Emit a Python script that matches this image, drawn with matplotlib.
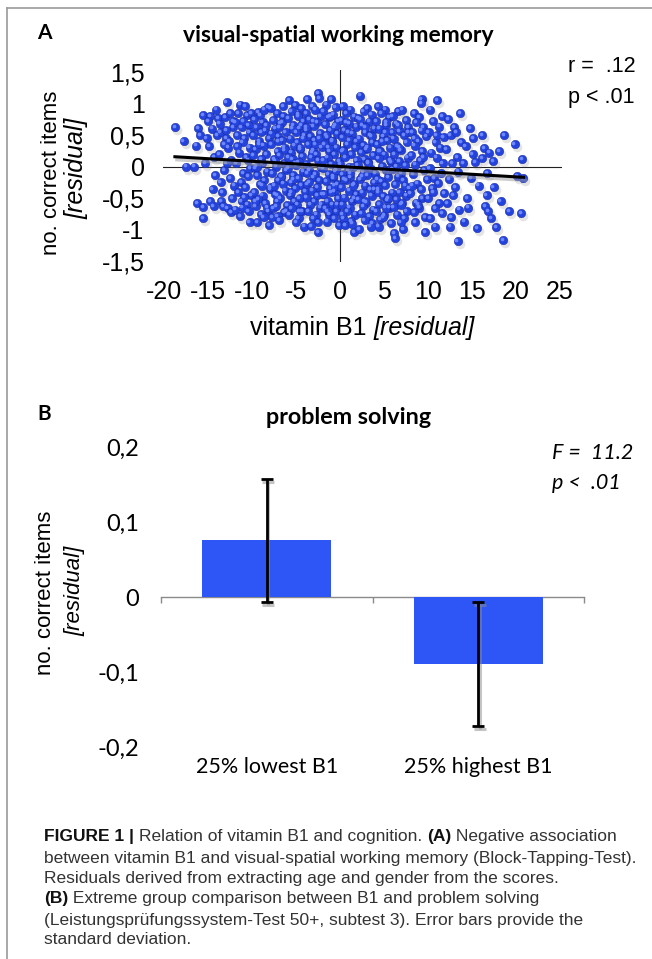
import matplotlib
matplotlib.use("Agg")
import matplotlib.pyplot as plt
from matplotlib.lines import Line2D
from matplotlib.transforms import offset_copy, blended_transform_factory

plt.rcParams['font.family'] = ['Liberation Sans', 'DejaVu Sans']
plt.rcParams['axes.unicode_minus'] = False

# --------------------------
# Panel A data: residuals (vitamin B1 vs. correct items)
# --------------------------
b1_resid = [
    -18.8, -17.8, -17.5, -16.6, -16.4, -16.2, -16.3, -15.6, -15.6, -15.9,
    -15.6, -14.8, -14.9, -14.4, -14.2, -15.0, -14.6, -15.2, -14.3, -14.8,
    -14.1, -15.4, -14.5, -14.0,
    -13.9, -13.1, -12.5, -12.9, -13.4, -12.5, -13.6, -12.2, -13.0, -12.7,
    -13.8, -12.4, -13.2, -12.1, -13.5, -12.8, -13.3, -12.3, -13.7, -12.6,
    -13.0, -12.2, -13.6, -12.9, -12.4, -13.2,
    -11.4, -10.8, -11.6, -10.6, -10.1, -11.9, -11.2, -10.4, -11.7, -10.9,
    -11.1, -10.3, -11.5, -10.7, -11.8, -10.2, -11.0, -10.5, -11.3, -10.8,
    -11.6, -10.1, -11.2, -10.6, -11.9, -10.4, -11.4, -10.3, -10.3, -11.0,
    -10.9, -11.7, -10.5, -11.1,
    -9.3, -9.1, -8.2, -9.8, -8.8, -9.5, -8.5, -9.9, -8.1, -9.2,
    -8.7, -9.6, -8.4, -9.0, -8.9, -9.7, -8.3, -9.4, -8.6, -9.1,
    -8.0, -9.8, -8.8, -9.3, -8.5, -9.6, -8.2, -9.0, -8.7, -9.4,
    -8.1, -9.9, -8.4, -9.2, -8.9, -9.7, -8.6, -9.5, -8.3, -9.0,
    -7.9, -7.2, -6.5, -7.6, -6.8, -7.4, -6.2, -7.0, -6.6, -7.8,
    -6.3, -7.1, -6.9, -7.5, -6.4, -7.3, -6.1, -7.7, -6.7, -7.0,
    -6.5, -7.9, -6.2, -7.4, -6.8, -7.2, -6.0, -7.6, -6.4, -7.1,
    -6.9, -7.3, -6.6, -7.8, -6.3, -7.5, -6.1, -7.0, -6.7, -7.4,
    -6.5, -7.2, -6.9, -7.7,
    -5.8, -5.1, -4.4, -5.5, -4.8, -5.9, -4.2, -5.3, -4.6, -5.0,
    -4.1, -5.7, -4.9, -5.2, -4.5, -5.6, -4.3, -5.4, -4.7, -5.0,
    -5.9, -4.2, -5.3, -4.8, -5.6, -4.4, -5.1, -4.0, -5.7, -4.6,
    -5.2, -4.9, -5.5, -4.3, -5.8, -4.7, -5.0, -4.1, -5.4, -4.5,
    -5.3, -4.8, -5.6, -4.2, -5.1, -4.6, -5.9, -4.4,
    -3.7, -2.5, -2.4, -3.2, -2.8, -3.9, -2.2, -3.5, -2.6, -3.0,
    -3.8, -2.3, -3.4, -2.9, -3.6, -2.1, -3.1, -2.7, -3.3, -2.5,
    -3.9, -2.2, -3.5, -2.8, -3.0, -2.4, -3.7, -2.6, -3.2, -2.0,
    -3.8, -2.9, -3.4, -2.3, -3.6, -2.7, -3.1, -2.5, -3.3, -2.1,
    -3.9, -2.8, -3.5, -2.2, -3.0, -2.6, -3.7, -2.4, -2.5, -3.2,
    -1.0, -1.6, -0.5, -1.9, -0.8, -1.3, -0.2, -1.7, -0.6, -1.1,
    -0.3, -1.5, -0.9, -1.8, -0.4, -1.2, -0.7, -1.4, -0.1, -1.0,
    -1.9, -0.5, -1.3, -0.8, -1.6, -0.3, -1.1, -0.6, -1.8, -0.2,
    -1.4, -0.9, -1.7, -0.4, -1.2, -0.7, -1.5, -0.1, -1.0, -0.5,
    -1.3, -0.8, -1.6, -0.3, -1.9, -0.6, -1.1, -0.4, -1.4, -0.9,
    0.3, 1.2, 0.7, 1.6, 0.1, 1.0, 1.8, 0.5, 1.4, 0.2,
    1.1, 0.8, 1.7, 0.4, 1.3, 0.6, 1.9, 0.0, 1.5, 0.9,
    0.3, 1.2, 0.7, 1.6, 0.1, 1.0, 1.8, 0.5, 1.4, 0.2,
    1.1, 0.8, 1.7, 0.4, 1.3, 0.6, 1.6, 0.9, 1.5, 0.3,
    1.6, 0.7, 1.2, 0.2, 1.8, 0.5, 1.0, 1.4,
    2.3, 3.1, 2.7, 3.6, 2.1, 3.3, 2.5, 3.9, 2.9, 3.4,
    2.2, 3.7, 2.6, 3.0, 2.4, 3.8, 2.8, 3.2, 2.0, 3.5,
    2.7, 3.1, 2.3, 3.9, 2.9, 3.4, 2.5, 3.6, 2.1, 3.0,
    2.6, 3.8, 2.4, 3.3, 2.8, 3.7, 2.2, 3.5, 2.9, 3.1,
    2.5, 3.6, 2.8, 3.2, 2.3, 3.9,
    4.3, 5.1, 4.7, 5.6, 4.1, 5.3, 4.5, 5.9, 4.9, 5.4,
    4.2, 5.7, 4.6, 5.0, 4.4, 5.8, 4.8, 5.2, 4.0, 5.5,
    4.7, 5.1, 4.3, 5.9, 4.9, 5.4, 4.5, 5.6, 4.1, 5.0,
    4.6, 5.8, 4.4, 5.3, 4.8, 5.7, 4.2, 5.5, 4.9, 5.1,
    4.5, 5.6, 4.3, 5.2,
    6.3, 7.2, 6.6, 7.1, 6.0, 7.5, 6.4, 7.8, 6.8, 7.3,
    6.1, 7.6, 6.5, 6.9, 6.2, 7.7, 6.7, 7.4, 6.0, 7.0,
    6.6, 7.2, 6.3, 7.9, 6.8, 7.5, 6.4, 7.1, 6.1, 7.6,
    6.5, 7.3, 6.9, 6.2, 7.8, 6.7, 7.0, 6.4, 7.4, 6.6,
    9.3, 9.2, 9.7, 8.4, 9.0, 8.7, 9.5, 8.2, 9.8, 8.9,
    8.5, 9.4, 8.1, 9.1, 8.6, 9.6, 8.3, 9.9, 8.8, 9.2,
    8.0, 9.4, 8.7, 9.0, 8.4, 9.7, 8.6, 9.3, 8.2, 9.5,
    8.9, 8.5,
    11.1, 10.8, 10.3, 11.6, 10.6, 11.3, 10.1, 11.8, 10.9, 11.4,
    10.4, 11.0, 11.7, 10.2, 11.5, 10.7, 11.2, 10.5, 11.9, 10.0,
    11.3, 10.8, 11.6, 10.3, 11.0, 10.6,
    13.7, 13.4, 12.3, 13.0, 12.6, 13.8, 12.1, 13.3, 12.8, 13.5,
    12.4, 13.1, 12.9, 12.2, 13.6, 12.7, 13.2, 12.5,
    14.8, 15.6, 14.1, 14.5, 15.4, 14.3, 15.1, 14.9, 15.8, 14.6,
    15.2, 14.0,
    16.2, 16.4, 17.4, 16.2, 17.5, 16.7, 17.2, 17.8, 16.9, 16.5,
    17.0, 16.8,
    18.7, 19.9, 18.1, 19.3, 18.6, 18.3,
    20.7, 20.9, 20.6, 20.2,
]
items_resid = [
    0.62, 0.40, 0.00, 0.00, 0.33, 0.61, -0.58, -0.64, -0.82, 0.50,
    0.81, 0.80, 0.32, -0.62, -0.13, 0.72, 0.60, 0.45, 0.15, -0.55,
    0.90, 0.05, -0.35, 0.50,
    0.76, 0.78, 0.84, 1.02, -0.40, -0.18, 0.55, 0.62, 0.45, 0.30,
    0.20, 0.10, -0.05, -0.30, -0.55, -0.66, -0.62, -0.50, 0.68, 0.40,
    0.58, 0.72, -0.25, 0.05, -0.72, 0.35,
    0.98, 0.96, 0.84, 0.81, 0.85, 0.70, 0.62, 0.66, 0.50, 0.45,
    0.38, 0.30, 0.22, 0.15, 0.05, -0.02, -0.10, -0.15, -0.25, -0.32,
    -0.40, -0.45, -0.55, -0.60, -0.68, -0.70, -0.78, -0.88, 0.55, 0.72,
    -0.48, 0.32, 0.10, -0.65,
    0.86, 0.81, 0.94, 0.75, 0.70, 0.62, 0.58, 0.50, 0.45, 0.40,
    0.33, 0.28, 0.20, 0.12, 0.05, -0.02, -0.08, -0.14, -0.22, -0.28,
    -0.35, -0.40, -0.46, -0.52, -0.58, -0.63, -0.70, -0.75, -0.80, -0.88,
    -0.92, 0.18, 0.65, 0.36, -0.30, -0.55, 0.90, 0.00, -0.65, 0.55,
    0.92, 0.85, 0.80, 0.74, 0.68, 0.60, 0.55, 0.48, 0.42, 0.36,
    0.30, 0.24, 0.18, 0.12, 0.06, 0.00, -0.05, -0.10, -0.16, -0.22,
    -0.27, -0.33, -0.38, -0.44, -0.50, -0.55, -0.61, -0.66, -0.72, -0.78,
    -0.84, -0.62, 0.70, 0.52, 0.26, -0.30, -0.70, 0.40, -0.15, 0.08,
    0.95, -0.45, 0.62, -0.80,
    1.05, 0.97, 0.92, 0.88, 0.82, 0.76, 0.72, 0.66, 0.60, 0.55,
    0.50, 0.44, 0.38, 0.33, 0.28, 0.22, 0.17, 0.12, 0.07, 0.02,
    -0.03, -0.08, -0.13, -0.18, -0.24, -0.29, -0.34, -0.39, -0.45, -0.50,
    -0.55, -0.60, -0.66, -0.71, -0.76, -0.82, -0.88, -0.95, 0.60, 0.30,
    -0.20, 0.80, -0.40, 0.45, 0.05, -0.70, 0.15, 0.65,
    1.07, 1.16, 1.08, 0.95, 0.90, 0.84, 0.80, 0.75, 0.70, 0.64,
    0.58, 0.53, 0.48, 0.42, 0.36, 0.31, 0.26, 0.20, 0.15, 0.10,
    0.04, -0.01, -0.06, -0.12, -0.17, -0.22, -0.28, -0.33, -0.38, -0.44,
    -0.49, -0.54, -0.60, -0.65, -0.70, -0.76, -0.82, -0.88, -0.94, -0.60,
    0.62, 0.35, -0.25, 0.00, 0.72, -0.45, -0.10, 0.45, -1.04, 0.22,
    1.07, 0.98, 0.94, 0.88, 0.82, 0.78, 0.72, 0.67, 0.62, 0.57,
    0.52, 0.46, 0.41, 0.36, 0.30, 0.25, 0.20, 0.14, 0.09, 0.04,
    -0.02, -0.07, -0.12, -0.18, -0.23, -0.28, -0.34, -0.39, -0.44, -0.50,
    -0.55, -0.60, -0.66, -0.71, -0.76, -0.82, -0.87, -0.93, -0.40, 0.65,
    0.30, -0.15, 0.50, -0.60, 0.10, -0.30, 0.80, -0.05, -0.70, 0.40,
    0.95, 0.90, 0.85, 0.79, 0.74, 0.68, 0.63, 0.58, 0.52, 0.47,
    0.42, 0.36, 0.31, 0.26, 0.20, 0.15, 0.10, 0.04, -0.01, -0.06,
    -0.12, -0.17, -0.22, -0.28, -0.33, -0.38, -0.44, -0.49, -0.54, -0.60,
    -0.65, -0.70, -0.76, -0.81, -0.86, -0.92, -1.03, 0.55, -0.30, 0.25,
    -0.50, 0.70, -0.10, -0.75, 0.40, -0.20, 0.00, -0.90,
    1.12, 0.92, 0.87, 0.82, 0.76, 0.71, 0.66, 0.60, 0.55, 0.50,
    0.44, 0.39, 0.34, 0.28, 0.23, 0.18, 0.12, 0.07, 0.02, -0.04,
    -0.09, -0.14, -0.20, -0.25, -0.30, -0.36, -0.41, -0.46, -0.52, -0.57,
    -0.62, -0.68, -0.73, -0.78, -0.84, -0.89, -0.99, -0.95, 0.62, 0.30,
    -0.15, 0.48, -0.55, 0.05, 0.75, -0.35,
    0.96, 0.90, 0.84, 0.78, 0.72, 0.66, 0.60, 0.54, 0.48, 0.42,
    0.36, 0.30, 0.25, 0.19, 0.13, 0.07, 0.01, -0.05, -0.11, -0.17,
    -0.23, -0.29, -0.35, -0.41, -0.47, -0.53, -0.59, -0.65, -0.71, -0.77,
    -0.83, -0.89, -0.95, 0.70, 0.40, 0.10, -0.20, -0.50, -0.80, 0.55,
    0.25, -0.05, -0.40, -0.65,
    -1.13, -0.99, 0.88, 0.90, 0.80, 0.74, 0.68, 0.62, 0.56, 0.50,
    0.44, 0.38, 0.32, 0.26, 0.20, 0.14, 0.08, 0.02, -0.04, -0.10,
    -0.16, -0.22, -0.28, -0.34, -0.40, -0.46, -0.52, -0.58, -0.64, -0.70,
    -0.76, -0.82, -0.88, -1.05, 0.55, 0.30, -0.60, 0.00, -0.30, 0.65,
    1.07, 1.00, -1.04, 0.85, 0.78, 0.70, 0.62, 0.55, 0.48, 0.40,
    0.33, 0.25, 0.18, 0.10, 0.03, -0.05, -0.12, -0.20, -0.27, -0.35,
    -0.42, -0.50, -0.57, -0.65, -0.72, -0.80, -0.88, 0.58, -0.30, 0.15,
    -0.60, 0.45,
    1.05, -0.95, 0.90, 0.80, 0.72, 0.63, 0.55, 0.46, 0.38, 0.30,
    0.22, 0.14, 0.06, -0.02, -0.10, -0.18, -0.26, -0.34, -0.42, -0.50,
    -0.58, -0.66, -0.74, -0.82, 0.50, -0.40,
    0.84, -1.18, 0.75, 0.62, 0.50, 0.38, 0.28, 0.15, 0.05, -0.08,
    -0.20, -0.32, -0.45, -0.58, -0.68, -0.80, 0.55, -0.95,
    0.61, -0.97, -0.87, -0.50, 0.07, 0.32, 0.20, -0.18, -0.30, -0.65,
    0.45, 0.05,
    0.50, 0.29, 0.09, 0.13, -0.32, -0.45, -0.82, -0.96, -0.70, -0.62,
    0.22, -0.10,
    0.50, 0.36, 0.25, -0.71, -1.16, -0.55,
    0.12, -0.18, -0.74, -0.15,
]

# regression line end points
fit_x = [-18.8, 20.9]
fit_y = [0.155, -0.17]

xticks_a = [-20, -15, -10, -5, 0, 5, 10, 15, 20, 25]
yticks_a = [-1.5, -1, -0.5, 0, 0.5, 1, 1.5]
ylabels_a = ["-1,5", "-1", "-0,5", "0", "0,5", "1", "1,5"]

# --------------------------
# Panel B data: extreme groups
# --------------------------
groups = ["25% lowest B1", "25% highest B1"]
group_means = [0.076, -0.089]
group_sd = [0.082, 0.083]
yticks_b = [-0.2, -0.1, 0, 0.1, 0.2]
ylabels_b = ["-0,2", "-0,1", "0", "0,1", "0,2"]

W, H = 652, 959
fig = plt.figure(figsize=(W / 100, H / 100), dpi=100)
renderer = fig.canvas.get_renderer()


def fx(px):
    return px / W


def fy(py):
    return 1 - py / H


def text_width(s, **kw):
    # width of a string incl. spaces, measured between two bars
    t1 = fig.text(0, 0, "|" + s + "|", **kw)
    t2 = fig.text(0, 0, "||", **kw)
    w = t1.get_window_extent(renderer).width - t2.get_window_extent(renderer).width
    t1.remove()
    t2.remove()
    return w


def draw_runs(x_px, y_px, runs, center=False, **kw):
    widths = [text_width(s, **{**kw, **style}) for s, style in runs]
    x = x_px - sum(widths) / 2 if center else x_px
    for (s, style), w in zip(runs, widths):
        fig.text(fx(x), fy(y_px), s, va="center", ha="left", **{**kw, **style})
        x += w


# frame
fig.add_artist(Line2D([fx(7), 1], [fy(8), fy(8)], color="#9a9a9a", lw=1.2))
fig.add_artist(Line2D([fx(7), fx(7)], [fy(8), 0], color="#9a9a9a", lw=1.2))

# --------------------------
# Panel A
# --------------------------
axA = fig.add_axes([fx(162.6), fy(261.5), 399.5 / W, 191.8 / H])
axA.set_xlim(-20.2, 25.3)
axA.set_ylim(-1.5, 1.53)
for sp in axA.spines.values():
    sp.set_visible(False)
axA.axhline(0, color="#222222", lw=0.8, zorder=1)
axA.axvline(0, color="#222222", lw=0.8, zorder=1)

shadow = offset_copy(axA.transData, fig=fig, x=2.0, y=-3.0, units="dots")
light = offset_copy(axA.transData, fig=fig, x=-1.2, y=1.2, units="dots")
axA.scatter(b1_resid, items_resid, s=48, color="#7a7a7a", alpha=0.2, lw=0,
            transform=shadow, zorder=2)
axA.scatter(b1_resid, items_resid, s=38, color="#2443dc", edgecolors="#15269c",
            linewidths=0.3, zorder=3)
axA.scatter(b1_resid, items_resid, s=7, color="#6d88ff", lw=0, transform=light,
            zorder=4)
axA.plot(fit_x, fit_y, color="#9a9a9a", lw=2.4, alpha=0.5, transform=shadow, zorder=5)
axA.plot(fit_x, fit_y, color="black", lw=2.2, zorder=6)

axA.set_xticks(xticks_a)
axA.set_yticks(yticks_a)
axA.set_yticklabels(ylabels_a)
axA.tick_params(length=0, labelsize=18, pad=13)

fig.text(fx(44), fy(33), "A", ha="center", va="center", fontsize=15,
         fontweight="bold", family="Lato")
fig.text(fx(338), fy(35), "visual-spatial working memory", ha="center", va="center",
         fontsize=16.5, fontweight="bold", family="Lato")
fig.text(fx(568), fy(67), "r =  .12", ha="left", va="center", fontsize=15.5)
fig.text(fx(568), fy(97), "p < .01", ha="left", va="center", fontsize=15.5)
fig.text(fx(52), fy(173), "no. correct items", rotation=90, ha="center", va="center",
         fontsize=16)
fig.text(fx(76), fy(168), "[residual]", rotation=90, ha="center", va="center",
         fontsize=18, style="italic")
draw_runs(362, 328, [("vitamin B1 ", {}), ("[residual]", {"style": "italic"})],
          center=True, fontsize=18)

# --------------------------
# Panel B
# --------------------------
axB = fig.add_axes([fx(161), fy(747), 423 / W, 300 / H])
axB.set_xlim(-0.5, 1.5)
axB.set_ylim(-0.2, 0.2)
for side in ("left", "top", "right"):
    axB.spines[side].set_visible(False)
axB.spines["bottom"].set_position(("data", 0))
axB.spines["bottom"].set_color("#8a8a8a")
axB.spines["bottom"].set_linewidth(1.0)
axB.spines["bottom"].set_zorder(1)

pos = list(range(len(groups)))
axB.bar(pos, group_means, width=0.61, color="#2e56f6", zorder=2)
shadowB = offset_copy(axB.transData, fig=fig, x=1.5, y=-3, units="dots")
axB.errorbar(pos, group_means, yerr=group_sd, fmt="none", ecolor="#8a8a8a", alpha=0.5,
             elinewidth=2.2, capsize=4.5, capthick=2.2, transform=shadowB, zorder=3)
axB.errorbar(pos, group_means, yerr=group_sd, fmt="none", ecolor="black",
             elinewidth=2.0, capsize=4.5, capthick=2.0, zorder=4)

axB.set_xticks([-0.5, 0.5, 1.5])
axB.set_xticklabels([])
axB.tick_params(axis="x", length=4, color="#8a8a8a", width=1.0, direction="out")
axB.set_yticks(yticks_b)
axB.set_yticklabels(ylabels_b, family="Lato")
axB.tick_params(axis="y", length=0, labelsize=17, pad=16)

cat_tr = blended_transform_factory(axB.transData, fig.transFigure)
for p, g in zip(pos, groups):
    axB.text(p, fy(767), g, transform=cat_tr, ha="center", va="center",
             fontsize=15.5, family="Lato")

fig.text(fx(44), fy(414), "B", ha="center", va="center", fontsize=15,
         fontweight="bold", family="Lato")
fig.text(fx(349), fy(417), "problem solving", ha="center", va="center",
         fontsize=16.8, fontweight="bold", family="Lato")
fig.text(fx(552), fy(453), "F =  11.2", ha="left", va="center", fontsize=15.5,
         style="italic", family="Lato")
fig.text(fx(552), fy(483), "p <  .01", ha="left", va="center", fontsize=15.5,
         style="italic", family="Lato")
fig.text(fx(46), fy(593), "no. correct items", rotation=90, ha="center", va="center",
         fontsize=16)
fig.text(fx(75), fy(591), "[residual]", rotation=90, ha="center", va="center",
         fontsize=16, style="italic")

# --------------------------
# Caption
# --------------------------
B = {"fontweight": "bold", "color": "#111111"}
R = {}
caption_lines = [
    [("FIGURE 1 | ", B), ("Relation of vitamin B1 and cognition. ", R), ("(A)", B),
     (" Negative association", R)],
    [("between vitamin B1 and visual-spatial working memory (Block-Tapping-Test).", R)],
    [("Residuals derived from extracting age and gender from the scores.", R)],
    [("(B)", B), (" Extreme group comparison between B1 and problem solving", R)],
    [("(Leistungsprüfungssystem-Test 50+, subtest 3). Error bars provide the", R)],
    [("standard deviation.", R)],
]
caption_y = [837, 858, 878, 899, 920, 940]
for runs, y in zip(caption_lines, caption_y):
    draw_runs(44, y, runs, fontsize=12.5, color="#333333")

fig.savefig("out.png", dpi=100)
